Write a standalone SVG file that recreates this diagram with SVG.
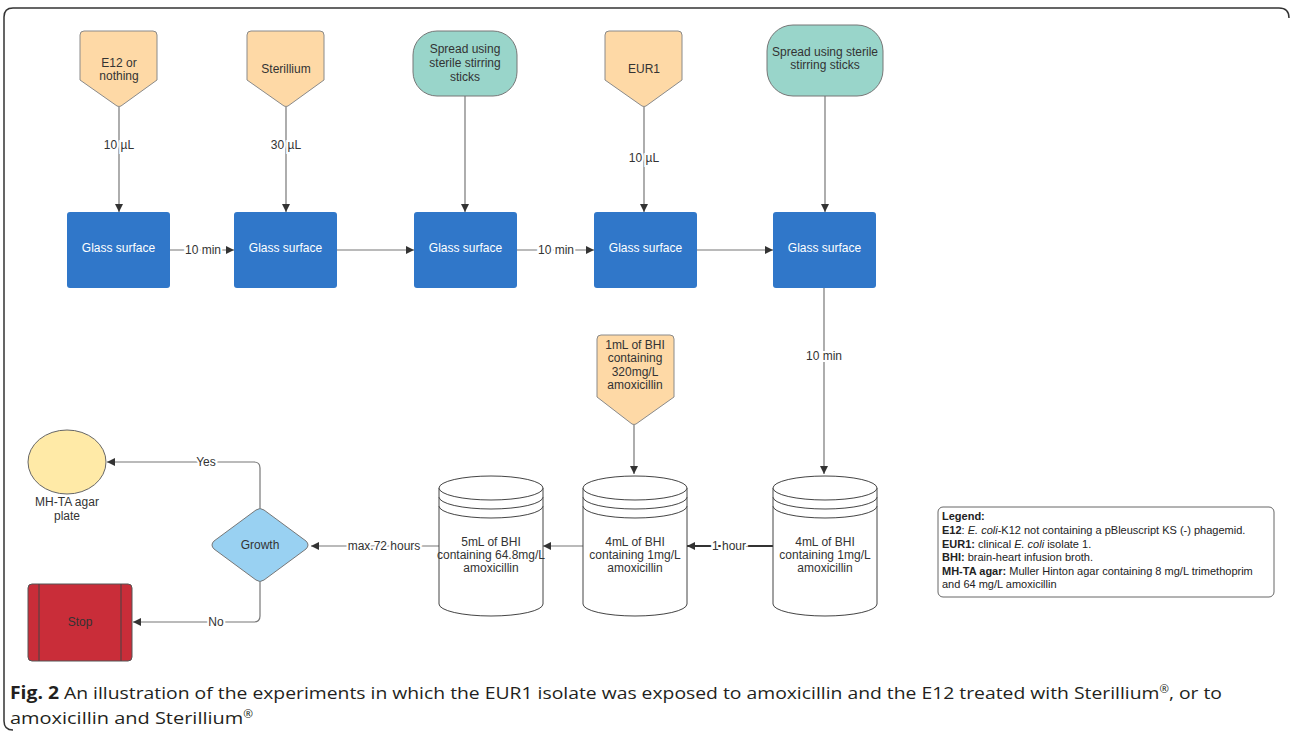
<svg xmlns="http://www.w3.org/2000/svg" width="1290" height="732" viewBox="0 0 1290 732">
<style>
  .t { font-family: "Liberation Sans", Arial, sans-serif; font-size: 12px; fill: #333; text-anchor: middle; }
  .w { font-family: "Liberation Sans", Arial, sans-serif; font-size: 12px; fill: #ffffff; text-anchor: middle; }
  .lbl { font-family: "Liberation Sans", Arial, sans-serif; font-size: 12px; fill: #333; text-anchor: middle; stroke: #ffffff; stroke-width: 4px; paint-order: stroke; }
  .pent { fill: #fed9a6; stroke: #8a8a8a; stroke-width: 1; stroke-linejoin: round; }
  .spread { fill: #99d5ca; stroke: #777; stroke-width: 1; }
  .glass { fill: #3077c9; stroke: none; }
  .cyl { fill: #ffffff; stroke: #444; stroke-width: 1; }
  .con { fill: none; stroke: #777; stroke-width: 1.2; }
  .leg { font-family: "Liberation Sans", Arial, sans-serif; font-size: 11px; fill: #222; }
  .cap { font-family: "Open Sans", "Noto Sans", sans-serif; font-size: 17px; fill: #231f20; }
  .sup { font-size: 10px; }
</style>
<defs>
  <marker id="arr" viewBox="0 0 10 10" refX="10" refY="5" markerUnits="userSpaceOnUse" markerWidth="9" markerHeight="8" orient="auto">
    <path d="M0,0 L10,5 L0,10 z" fill="#333"/>
  </marker>
</defs>
<rect width="1290" height="732" fill="#ffffff"/>
<path d="M1289,18 Q1289,8 1279,8 L13,8 Q4,8 4,17 L4,721 Q4,730 13,730" fill="none" stroke="#333" stroke-width="1.5"/>

<g id="connectors">
  <path class="con" d="M119,107 L119,212" marker-end="url(#arr)"/>
  <path class="con" d="M286,107 L286,212" marker-end="url(#arr)"/>
  <path class="con" d="M465,96 L465,212" marker-end="url(#arr)"/>
  <path class="con" d="M644,107 L644,212" marker-end="url(#arr)"/>
  <path class="con" d="M825,96 L825,212" marker-end="url(#arr)"/>
  <path class="con" d="M170,250 L234,250" marker-end="url(#arr)"/>
  <path class="con" d="M337,250 L414,250" marker-end="url(#arr)"/>
  <path class="con" d="M517,250 L594,250" marker-end="url(#arr)"/>
  <path class="con" d="M697,250 L773,250" marker-end="url(#arr)"/>
  <path class="con" d="M824,288 L824,474" marker-end="url(#arr)"/>
  <path class="con" d="M634,425 L634,474" marker-end="url(#arr)"/>
  <path class="con" d="M773,546 L687,546" style="stroke:#333;stroke-width:2" marker-end="url(#arr)"/>
  <path class="con" d="M583,546 L543,546" marker-end="url(#arr)"/>
  <path class="con" d="M439,546 L311,546" marker-end="url(#arr)"/>
  <path class="con" d="M260,508 L260,468 Q260,462 254,462 L107,462" marker-end="url(#arr)"/>
  <path class="con" d="M260,582 L260,616 Q260,622 254,622 L133,622" marker-end="url(#arr)"/>
  <text class="lbl" x="119" y="149">10 µL</text>
  <text class="lbl" x="286" y="149">30 µL</text>
  <text class="lbl" x="644" y="162">10 µL</text>
  <text class="lbl" x="203" y="254">10 min</text>
  <text class="lbl" x="556" y="254">10 min</text>
  <text class="lbl" x="824" y="360">10 min</text>
  <text class="lbl" x="729" y="550">1 hour</text>
  <text class="lbl" x="384" y="550">max.72 hours</text>
  <text class="lbl" x="206" y="466">Yes</text>
  <text class="lbl" x="216" y="626">No</text>
</g>

<g id="e12">
  <path class="pent" d="M84,31 L153,31 Q157,31 157,35 L157,80 L121,106 Q119,107 117,106 L80,80 L80,35 Q80,31 84,31 Z"/>
  <text class="t" x="119" y="67">E12 or</text>
  <text class="t" x="119" y="80">nothing</text>
</g>
<g id="sterillium">
  <path class="pent" d="M251,31 L320,31 Q324,31 324,35 L324,80 L288,106 Q286,107 284,106 L247,80 L247,35 Q247,31 251,31 Z"/>
  <text class="t" x="286" y="73">Sterillium</text>
</g>
<g id="spread1">
  <rect class="spread" x="413" y="31" width="104" height="65" rx="24" ry="24"/>
  <text class="t" x="465" y="53">Spread using</text>
  <text class="t" x="465" y="67">sterile stirring</text>
  <text class="t" x="465" y="81">sticks</text>
</g>
<g id="eur1">
  <path class="pent" d="M609,31 L678,31 Q682,31 682,35 L682,80 L646,106 Q644,107 642,106 L605,80 L605,35 Q605,31 609,31 Z"/>
  <text class="t" x="644" y="73">EUR1</text>
</g>
<g id="spread2">
  <rect class="spread" x="767" y="25" width="116" height="71" rx="26" ry="26"/>
  <text class="t" x="825" y="56">Spread using sterile</text>
  <text class="t" x="825" y="69">stirring sticks</text>
</g>

<g id="glass1"><rect class="glass" x="67" y="212" width="103" height="76" rx="3"/><text class="w" x="118.5" y="252">Glass surface</text></g>
<g id="glass2"><rect class="glass" x="234" y="212" width="103" height="76" rx="3"/><text class="w" x="285.5" y="252">Glass surface</text></g>
<g id="glass3"><rect class="glass" x="414" y="212" width="103" height="76" rx="3"/><text class="w" x="465.5" y="252">Glass surface</text></g>
<g id="glass4"><rect class="glass" x="594" y="212" width="103" height="76" rx="3"/><text class="w" x="645.5" y="252">Glass surface</text></g>
<g id="glass5"><rect class="glass" x="773" y="212" width="103" height="76" rx="3"/><text class="w" x="824.5" y="252">Glass surface</text></g>

<g id="bhi">
  <path class="pent" d="M601,335 L670,335 Q674,335 674,339 L674,397 L636,424 Q634,425 632,424 L597,397 L597,339 Q597,335 601,335 Z"/>
  <text class="t" x="635" y="349">1mL of BHI</text>
  <text class="t" x="635" y="362">containing</text>
  <text class="t" x="635" y="376">320mg/L</text>
  <text class="t" x="635" y="389">amoxicillin</text>
</g>

<g id="cyl1">
  <path class="cyl" d="M439,488 A52,12 0 0 1 543,488 L543,604 A52,12 0 0 1 439,604 Z"/>
  <path class="cyl" d="M439,488 A52,12 0 0 0 543,488 M439,497 A52,12 0 0 0 543,497 M439,506 A52,12 0 0 0 543,506" fill="none"/>
  <text class="t" x="491" y="546">5mL of BHI</text>
  <text class="t" x="491" y="559">containing 64.8mg/L</text>
  <text class="t" x="491" y="572">amoxicillin</text>
</g>
<g id="cyl2">
  <path class="cyl" d="M583,488 A52,12 0 0 1 687,488 L687,604 A52,12 0 0 1 583,604 Z"/>
  <path class="cyl" d="M583,488 A52,12 0 0 0 687,488 M583,497 A52,12 0 0 0 687,497 M583,506 A52,12 0 0 0 687,506" fill="none"/>
  <text class="t" x="635" y="546">4mL of BHI</text>
  <text class="t" x="635" y="559">containing 1mg/L</text>
  <text class="t" x="635" y="572">amoxicillin</text>
</g>
<g id="cyl3">
  <path class="cyl" d="M773,488 A52,12 0 0 1 877,488 L877,604 A52,12 0 0 1 773,604 Z"/>
  <path class="cyl" d="M773,488 A52,12 0 0 0 877,488 M773,497 A52,12 0 0 0 877,497 M773,506 A52,12 0 0 0 877,506" fill="none"/>
  <text class="t" x="825" y="546">4mL of BHI</text>
  <text class="t" x="825" y="559">containing 1mg/L</text>
  <text class="t" x="825" y="572">amoxicillin</text>
</g>

<g id="growth">
  <path d="M214,541 L256,510 Q260,507 264,510 L306,541 Q310,545 306,549 L264,580 Q260,583 256,580 L214,549 Q210,545 214,541 Z" fill="#99d1f2" stroke="#777" stroke-width="1"/>
  <text class="t" x="260" y="549">Growth</text>
</g>
<g id="agar">
  <ellipse cx="67" cy="462" rx="39" ry="32" fill="#ffeaa7" stroke="#666" stroke-width="1"/>
  <text class="t" x="67" y="506">MH-TA agar</text>
  <text class="t" x="67" y="520">plate</text>
</g>
<g id="stop">
  <rect x="28" y="584" width="104" height="77" rx="4" fill="#c92d39" stroke="#555" stroke-width="1"/>
  <line x1="39" y1="584" x2="39" y2="661" stroke="#444" stroke-width="1"/>
  <line x1="121" y1="584" x2="121" y2="661" stroke="#444" stroke-width="1"/>
  <text class="t" x="80" y="626">Stop</text>
</g>

<g id="legend">
  <rect x="938" y="507" width="336" height="90" rx="5" fill="#ffffff" stroke="#666" stroke-width="1"/>
  <text class="leg" x="942" y="520"><tspan font-weight="bold">Legend:</tspan></text>
  <text class="leg" x="942" y="534"><tspan font-weight="bold">E12</tspan>: <tspan font-style="italic">E. coli</tspan>-K12 not containing a pBleuscript KS (-) phagemid.</text>
  <text class="leg" x="942" y="548"><tspan font-weight="bold">EUR1:</tspan> clinical <tspan font-style="italic">E. coli</tspan> isolate 1.</text>
  <text class="leg" x="942" y="561"><tspan font-weight="bold">BHI:</tspan> brain-heart infusion broth.</text>
  <text class="leg" x="942" y="575"><tspan font-weight="bold">MH-TA agar:</tspan> Muller Hinton agar containing 8 mg/L trimethoprim</text>
  <text class="leg" x="942" y="588">and 64 mg/L amoxicillin</text>
</g>

<g id="caption">
  <text class="cap" x="10" y="699" textLength="1212" lengthAdjust="spacingAndGlyphs"><tspan font-weight="bold">Fig. 2</tspan> An illustration of the experiments in which the EUR1 isolate was exposed to amoxicillin and the E12 treated with Sterillium<tspan class="sup" dy="-6">®</tspan><tspan dy="6">, or to</tspan></text>
  <text class="cap" x="10" y="724" textLength="243" lengthAdjust="spacingAndGlyphs">amoxicillin and Sterillium<tspan class="sup" dy="-6">®</tspan></text>
</g>
</svg>
